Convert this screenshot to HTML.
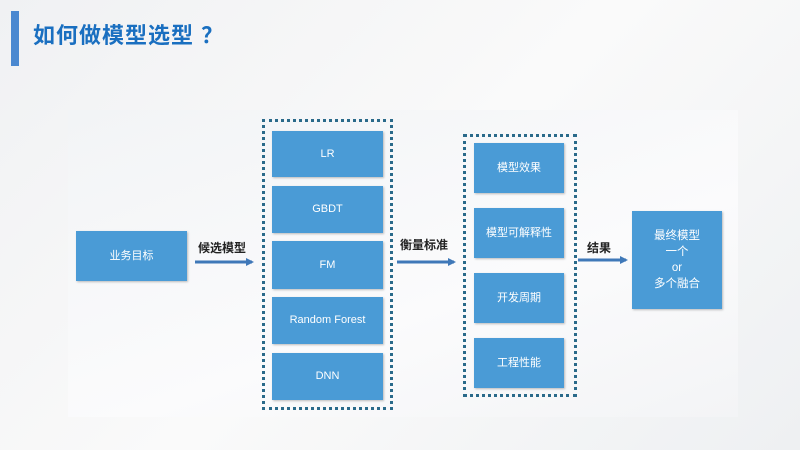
<!DOCTYPE html>
<html><head><meta charset="utf-8"><style>
body{margin:0;width:800px;height:450px;overflow:hidden;background:linear-gradient(135deg,#f0f1f3 0%,#fafafa 50%,#eef0f2 100%);font-family:"Liberation Sans","Noto Sans CJK SC",sans-serif;position:relative}
.a{position:absolute}
.b{position:absolute;background:#4a9bd6;color:#fff;display:flex;align-items:center;justify-content:center;text-align:center;font-size:11px;box-shadow:1px 1px 2px rgba(0,0,0,.25);line-height:15px}
.d{position:absolute;border:3px dotted #2a6a8a;box-sizing:border-box}
.l{position:absolute;font-size:12px;font-weight:bold;color:#222}
</style></head><body>
<div class="a" style="left:11px;top:11px;width:8px;height:55px;background:#4a88d0"></div>
<div class="a" style="left:33px;top:18px;font-size:22px;font-weight:bold;color:#1a6fc0;letter-spacing:1px">如何做模型选型 ？</div>
<div class="a" style="left:68px;top:110px;width:670px;height:307px;background:linear-gradient(160deg,#f2f4f6,#fbfbfc 60%,#f3f4f6)"></div>
<div class="b" style="left:76px;top:231px;width:111px;height:50px">业务目标</div>
<div class="l" style="left:198px;top:239px">候选模型</div>
<svg class="a" style="left:0;top:0" width="800" height="450">
<defs><marker id="m" markerWidth="8" markerHeight="8" refX="6" refY="4" orient="auto" markerUnits="userSpaceOnUse"><path d="M0,0 L8,4 L0,8z" fill="#3f78b8"/></marker></defs>
<line x1="195" y1="262" x2="252" y2="262" stroke="#3f78b8" stroke-width="3" marker-end="url(#m)"/>
<line x1="397" y1="262" x2="454" y2="262" stroke="#3f78b8" stroke-width="3" marker-end="url(#m)"/>
<line x1="578" y1="260" x2="626" y2="260" stroke="#3f78b8" stroke-width="3" marker-end="url(#m)"/>
</svg>
<div class="d" style="left:262px;top:119px;width:131px;height:291px"></div>
<div class="b" style="left:272px;top:131px;width:111px;height:46px">LR</div>
<div class="b" style="left:272px;top:186px;width:111px;height:47px">GBDT</div>
<div class="b" style="left:272px;top:241px;width:111px;height:48px">FM</div>
<div class="b" style="left:272px;top:297px;width:111px;height:47px">Random Forest</div>
<div class="b" style="left:272px;top:353px;width:111px;height:47px">DNN</div>
<div class="l" style="left:400px;top:236px">衡量标准</div>
<div class="d" style="left:463px;top:134px;width:114px;height:263px"></div>
<div class="b" style="left:474px;top:143px;width:90px;height:50px">模型效果</div>
<div class="b" style="left:474px;top:208px;width:90px;height:50px">模型可解释性</div>
<div class="b" style="left:474px;top:273px;width:90px;height:50px">开发周期</div>
<div class="b" style="left:474px;top:338px;width:90px;height:50px">工程性能</div>
<div class="l" style="left:587px;top:239px">结果</div>
<div class="b" style="left:632px;top:211px;width:90px;height:98px;font-size:11.5px;line-height:16px">最终模型<br>一个<br>or<br>多个融合</div>
</body></html>
